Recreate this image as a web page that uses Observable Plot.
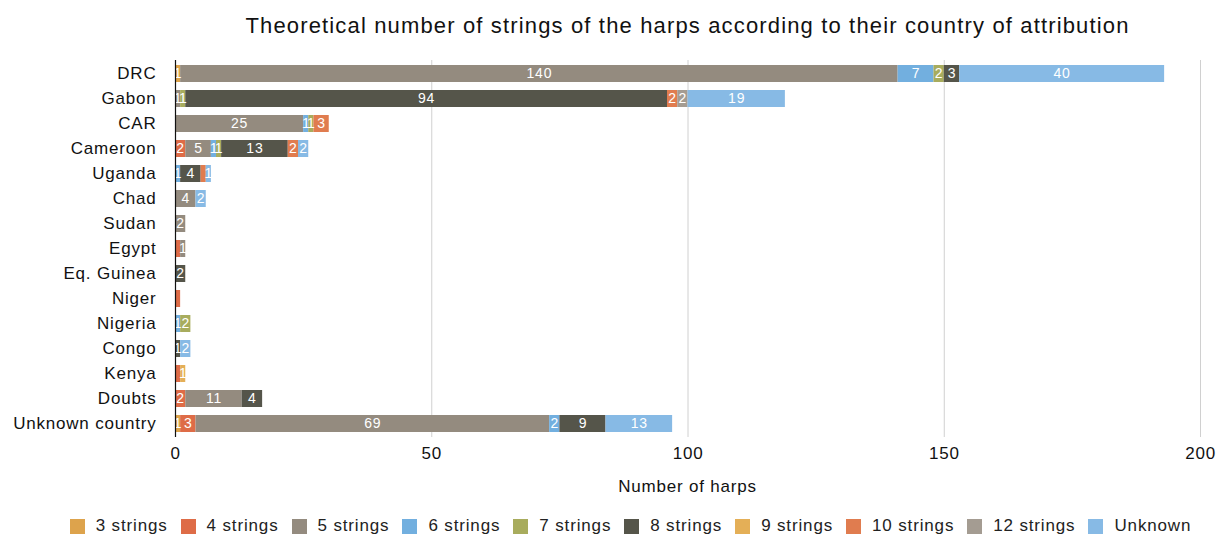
<!DOCTYPE html>
<html>
<head>
<meta charset="utf-8">
<script src="https://cdn.jsdelivr.net/npm/d3@7"></script>
<script src="https://cdn.jsdelivr.net/npm/@observablehq/plot@0.6"></script>
<style>
  body { margin: 0; background: #fff; font-family: "Liberation Sans", Arial, sans-serif; color: #111; }
  #title { margin-left: 175px; width: 1025px; text-align: center; font-size: 22px; letter-spacing: 1.15px; height: 50px; line-height: 52px; white-space: nowrap; }
  #chart { height: 417px; }
  #xlabel { margin-left: 175px; width: 1025px; text-align: center; font-size: 17px; letter-spacing: 0.8px; height: 40px; line-height: 40px; }
  #legend { display: flex; justify-content: center; align-items: center; font-size: 17px; letter-spacing: 0.85px; color: #222; height: 38px; padding-left: 40px; }
  #legend .item { display: flex; align-items: center; margin: 0 6.5px; }
  #legend .sw { width: 15px; height: 15px; margin-right: 11px; }
</style>
</head>
<body>
<div id="title">Theoretical number of strings of the harps according to their country of attribution</div>
<div id="chart"></div>
<div id="xlabel">Number of harps</div>
<div id="legend"></div>
<script>
const countries = ["DRC","Gabon","CAR","Cameroon","Uganda","Chad","Sudan","Egypt","Eq. Guinea","Niger","Nigeria","Congo","Kenya","Doubts","Unknown country"];
const types = ["3 strings","4 strings","5 strings","6 strings","7 strings","8 strings","9 strings","10 strings","12 strings","Unknown"];
const colors = ["#DDA34C","#DE6C47","#948B7F","#72AFDF","#A8AC5D","#55554A","#E4AF57","#E07C4F","#A49C92","#87BAE5"];
// values per country (same order as `countries`), one array per string type
const s3  = [1,0,0,0,0,0,0,0,0,0,0,0,0,0,1];
const s4  = [0,0,0,2,0,0,0,1,0,1,0,0,1,2,3];
const s5  = [140,1,25,5,0,4,2,1,0,0,0,0,0,11,69];
const s6  = [7,0,1,1,1,0,0,0,0,0,1,0,0,0,2];
const s7  = [2,1,1,1,0,0,0,0,0,0,2,0,0,0,0];
const s8  = [3,94,0,13,4,0,0,0,2,0,0,1,0,4,9];
const s9  = [0,0,0,0,0,0,0,0,0,0,0,0,1,0,0];
const s10 = [0,2,3,2,1,0,0,0,0,0,0,0,0,0,0];
const s12 = [0,2,0,0,0,0,0,0,0,0,0,0,0,0,0];
const sUnk= [40,19,0,2,1,2,0,0,0,0,0,2,0,0,13];
const series = [s3,s4,s5,s6,s7,s8,s9,s10,s12,sUnk];
const xTicks = [0,50,100,150,200];
// segments whose value label is not shown in the original (too narrow)
const hiddenLabels = [["Uganda","10 strings"],["Egypt","4 strings"],["Niger","4 strings"],["Kenya","4 strings"]];

const data = [];
countries.forEach((c, i) => {
  types.forEach((t, j) => {
    const v = series[j][i];
    if (v > 0) data.push({country: c, type: t, value: v});
  });
});
const isHidden = d => hiddenLabels.some(([c, t]) => c === d.country && t === d.type);

const font = "Liberation Sans, Arial, sans-serif";
const chart = Plot.plot({
  width: 1221,
  height: 417,
  marginLeft: 175,
  marginRight: 21,
  marginTop: 10,
  marginBottom: 30,
  style: {fontFamily: font, fontSize: "17px", color: "#111", background: "#fff", letterSpacing: "0.8px", overflow: "visible"},
  x: {domain: [0, 200], ticks: xTicks, label: null},
  y: {domain: countries, paddingInner: 0.32, paddingOuter: 0.18, label: null},
  color: {domain: types, range: colors},
  marks: [
    Plot.ruleX(xTicks.slice(1), {stroke: "#d0d0d0", strokeWidth: 1}),
    Plot.barX(data, Plot.stackX({x: "value", y: "country", fill: "type", order: types})),
    Plot.text(data, Plot.stackX({x: "value", y: "country", z: "type", order: types, text: d => isHidden(d) ? "" : String(d.value), fill: "white", fontSize: 14})),
    Plot.ruleX([0], {stroke: "#111", strokeWidth: 1.2}),
    Plot.axisY({tickSize: 0, tickPadding: 19, fontSize: 17, label: null}),
    Plot.axisX({ticks: xTicks, tickSize: 0, tickPadding: 9, fontSize: 17, label: null})
  ]
});
document.getElementById("chart").appendChild(chart);

const legend = document.getElementById("legend");
types.forEach((t, j) => {
  const it = document.createElement("div");
  it.className = "item";
  it.innerHTML = `<span class="sw" style="background:${colors[j]}"></span><span>${t}</span>`;
  legend.appendChild(it);
});
</script>
</body>
</html>
